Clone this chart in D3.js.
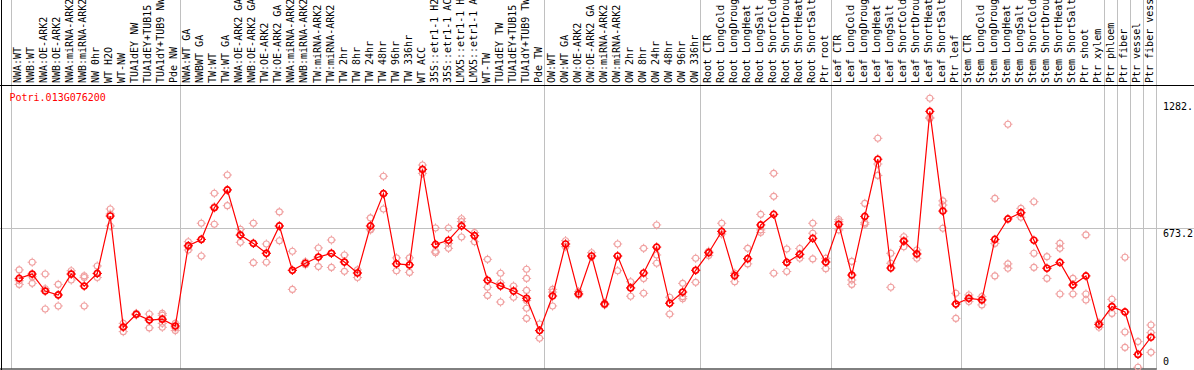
<!DOCTYPE html>
<html>
<head>
	<meta charset="utf-8">
	<title>Potri.013G076200</title>
</head>
<style type="text/css">
	html, body {margin:0px; padding:0px; background:#fff;}
	svg {display:block; font-family:"DejaVu Sans Mono", monospace; font-size:10px;}
</style>
<body>

	<svg></svg>

<script src="https://d3js.org/d3.v7.min.js"></script>
<script type="text/javascript">

	const geneId = 'Potri.013G076200';

	const samples = [
		'NWA:WT', 'NWB:WT', 'NWA:OE-ARK2', 'NWB:OE-ARK2', 'NWA:miRNA-ARK2', 'NWB:miRNA-ARK2',
		'NW 0hr', 'WT H2O', 'WT-NW', 'TUA1dEY NW', 'TUA1dEY+TUB15 NW', 'TUA1dY+TUB9 NW', 'Pde NW',
		'NWA:WT GA', 'NWBWT GA', 'TW:WT', 'TW:WT GA', 'NWA:OE-ARK2 GA', 'NWB:OE-ARK2 GA',
		'TW:OE-ARK2', 'TW:OE-ARK2 GA', 'NWA:miRNA-ARK2', 'NWB:miRNA-ARK2', 'TW:miRNA-ARK2', 'TW:miRNA-ARK2',
		'TW 2hr', 'TW 8hr', 'TW 24hr', 'TW 48hr', 'TW 96hr', 'TW 336hr', 'WT ACC',
		'35S::etr1-1 H2O', '35S::etr1-1 ACC', 'LMX5::etr1-1 H2O', 'LMX5::etr1-1 ACC',
		'WT-TW', 'TUA1dEY TW', 'TUA1dEY+TUB15 TW', 'TUA1dY+TUB9 TW', 'Pde TW',
		'OW:WT', 'OW:WT GA', 'OW:OE-ARK2', 'OW:OE-ARK2 GA', 'OW:miRNA-ARK2', 'OW:miRNA-ARK2',
		'OW 2hr', 'OW 8hr', 'OW 24hr', 'OW 48hr', 'OW 96hr', 'OW 336hr',
		'Root CTR', 'Root LongCold', 'Root LongDrought', 'Root LongHeat', 'Root LongSalt',
		'Root ShortCold', 'Root ShortDrought', 'Root ShortHeat', 'Root ShortSalt', 'Ptr root',
		'Leaf CTR', 'Leaf LongCold', 'Leaf LongDrought', 'Leaf LongHeat', 'Leaf LongSalt',
		'Leaf ShortCold', 'Leaf ShortDrought', 'Leaf ShortHeat', 'Leaf ShortSalt', 'Ptr leaf',
		'Stem CTR', 'Stem LongCold', 'Stem LongDrought', 'Stem LongHeat', 'Stem LongSalt',
		'Stem ShortCold', 'Stem ShortDrought', 'Stem ShortHeat', 'Stem ShortSalt', 'Ptr shoot', 'Ptr xylem',
		'Ptr phloem', 'Ptr fiber', 'Ptr vessel', 'Ptr fiber vessel'
	];

	// mean expression per sample
	const means = [
		430, 451, 369, 350, 451, 393, 454, 731, 195, 257,
		229, 233, 200, 588, 618, 771, 857, 639, 599, 551,
		683, 469, 503, 533, 551, 509, 456, 683, 839, 500,
		495, 956, 594, 614, 683, 636, 421, 393, 369, 334,
		178, 345, 596, 355, 538, 306, 538, 384, 456, 581,
		310, 364, 469, 554, 657, 443, 525, 688, 739, 507,
		546, 623, 509, 691, 446, 729, 1005, 480, 610, 548,
		1236, 755, 306, 334, 326, 618, 717, 747, 614, 479,
		507, 398, 442, 208, 294, 268, 63, 146
	];

	// single replicates per sample
	const replicates = [
		[471, 419, 401], [508, 438, 406], [451, 380, 282], [401, 350, 297], [467, 451, 422],
		[442, 434, 297], [490, 454, 434], [765, 741, 683], [213, 195, 173], [261, 257, 253],
		[258, 229, 191], [261, 252, 233, 213, 194], [213, 191, 178], [607, 583, 567], [696, 618, 538],
		[841, 776, 691], [929, 857, 781], [667, 639, 604], [696, 599, 506], [596, 551, 508],
		[751, 683, 612], [561, 469, 377], [510, 503, 496], [577, 533, 487], [615, 551, 483],
		[543, 509, 464], [471, 456, 434], [722, 667, 664], [923, 839, 765], [529, 500, 467],
		[529, 495, 459], [977, 956, 937], [673, 561, 554], [673, 599, 575], [718, 704, 630],
		[651, 636, 607], [522, 387, 348], [455, 409, 316], [393, 369, 339], [474, 430, 372, 323, 286, 237],
		[210, 178, 141], [377, 364, 297], [612, 596, 583], [366, 355, 350], [554, 538, 535],
		[310, 306, 302], [596, 538, 467], [414, 384, 344], [575, 429, 358], [688, 543, 503],
		[339, 310, 258], [406, 342, 332], [527, 469, 411], [561, 554, 540], [696, 657, 644],
		[455, 443, 414], [575, 525, 500], [739, 664, 652], [937, 826, 455], [572, 508, 463],
		[574, 546, 527], [696, 648, 524], [527, 509, 477], [714, 704, 664], [512, 422, 401],
		[792, 699, 691], [1106, 982, 927], [551, 503, 387], [631, 610, 583], [567, 548, 527],
		[1299, 1207, 1202], [804, 784, 672], [358, 306, 237], [350, 334, 318], [342, 326, 302],
		[816, 599, 442], [1174, 500, 479], [768, 747, 725], [800, 551, 483], [535, 479, 430],
		[599, 575, 355], [430, 398, 355], [640, 355, 326], [216, 208, 194], [329, 294, 261],
		[532, 171, 97], [125, 63, 1], [205, 168, 73]
	];

	// first sample index of each block (a grey line is drawn before it)
	const blockStarts = [0, 13, 41, 53, 63, 73, 84, 85, 86, 87, 88];

	const yTicks = [1282, 673.2, 0];
	const yTickLabels = ['1282.', '673.2', '0'];

	const width = 1194, height = 370;
	const headerY = 85.5, bottomY = 368.5;

	const svg = d3.select('svg')
		.attr('width', width)
		.attr('height', height);

	const idx = d3.range(samples.length);

	let x = d3.scaleBand().domain(idx).range([11, 11 + samples.length * 13.009]);
	let y = d3.scaleLinear().domain([0, 1346.4]).range([367.5, 88.5]);

	const px = function(i) { return x(i) + 8.2; };
	const bandX = function(i) { return i < samples.length ? x(i) : x.range()[1]; };

	// grid
	svg.append('line')
		.attr('x1', 0).attr('x2', width)
		.attr('y1', Math.round(y(673.2)) + 0.5).attr('y2', Math.round(y(673.2)) + 0.5)
		.attr('stroke', '#c0c0c0');

	svg.selectAll('.vgrid')
		.data(blockStarts)
		.enter().append('line')
		.attr('class', 'vgrid')
		.attr('x1', function(d) { return Math.round(bandX(d)) + 0.5; })
		.attr('x2', function(d) { return Math.round(bandX(d)) + 0.5; })
		.attr('y1', 0).attr('y2', bottomY)
		.attr('stroke', '#c0c0c0');

	// frame
	svg.append('line').attr('x1', 0).attr('x2', width).attr('y1', headerY).attr('y2', headerY).attr('stroke', '#000');
	svg.append('line').attr('x1', 1.5).attr('x2', 1.5).attr('y1', 0).attr('y2', height).attr('stroke', '#000');
	svg.append('line').attr('x1', 0).attr('x2', bandX(88) + 1).attr('y1', bottomY + 0.5).attr('y2', bottomY + 0.5).attr('stroke', '#000');

	// sample labels, rotated, running up from the header line
	svg.selectAll('.lab')
		.data(idx)
		.enter().append('text')
		.attr('class', 'lab')
		.attr('transform', function(d) { return 'translate(' + (x(d) + 10.3) + ',' + 83 + ') rotate(-90)'; })
		.attr('fill', '#000')
		.text(function(d) { return samples[d]; });

	// y labels
	svg.selectAll('.ylab')
		.data(yTicks)
		.enter().append('text')
		.attr('class', 'ylab')
		.attr('x', 1163)
		.attr('y', function(d) { return Math.min(y(d) + 8.5, 365); })
		.attr('fill', '#000')
		.text(function(d, i) { return yTickLabels[i]; });

	svg.append('text')
		.attr('x', 9.5).attr('y', 100.5)
		.attr('fill', '#ff0000')
		.text(geneId);

	// small ring with four ticks, as in the original
	function ring(sel, r, col, sw) {
		sel.append('circle').attr('r', r).attr('fill', 'none').attr('stroke', col).attr('stroke-width', sw);
		sel.append('path')
			.attr('d', 'M0,' + (-r - 1.6) + 'V' + (-r) + 'M0,' + r + 'V' + (r + 1.6) +
				'M' + (-r - 1.6) + ',0H' + (-r) + 'M' + r + ',0H' + (r + 1.6))
			.attr('stroke', col).attr('stroke-width', 1);
	}

	// replicates
	const repPts = [];
	replicates.forEach(function(arr, i) {
		arr.forEach(function(v) { repPts.push({ i: i, v: v }); });
	});

	svg.append('g').selectAll('g')
		.data(repPts)
		.enter().append('g')
		.attr('transform', function(d) { return 'translate(' + px(d.i) + ',' + y(d.v) + ')'; })
		.each(function() { ring(d3.select(this), 3, '#f0a0a0', 1.1); });

	// mean line
	const line = d3.line()
		.x(function(d) { return px(d); })
		.y(function(d) { return y(means[d]); });

	svg.append('path')
		.datum(idx)
		.attr('d', line)
		.attr('fill', 'none')
		.attr('stroke', '#ff0000')
		.attr('stroke-width', 1.2);

	svg.append('g').selectAll('g')
		.data(idx)
		.enter().append('g')
		.attr('transform', function(d) { return 'translate(' + px(d) + ',' + y(means[d]) + ')'; })
		.each(function() { ring(d3.select(this), 3, '#ff0000', 1.7); });

</script>
</body>
</html>
